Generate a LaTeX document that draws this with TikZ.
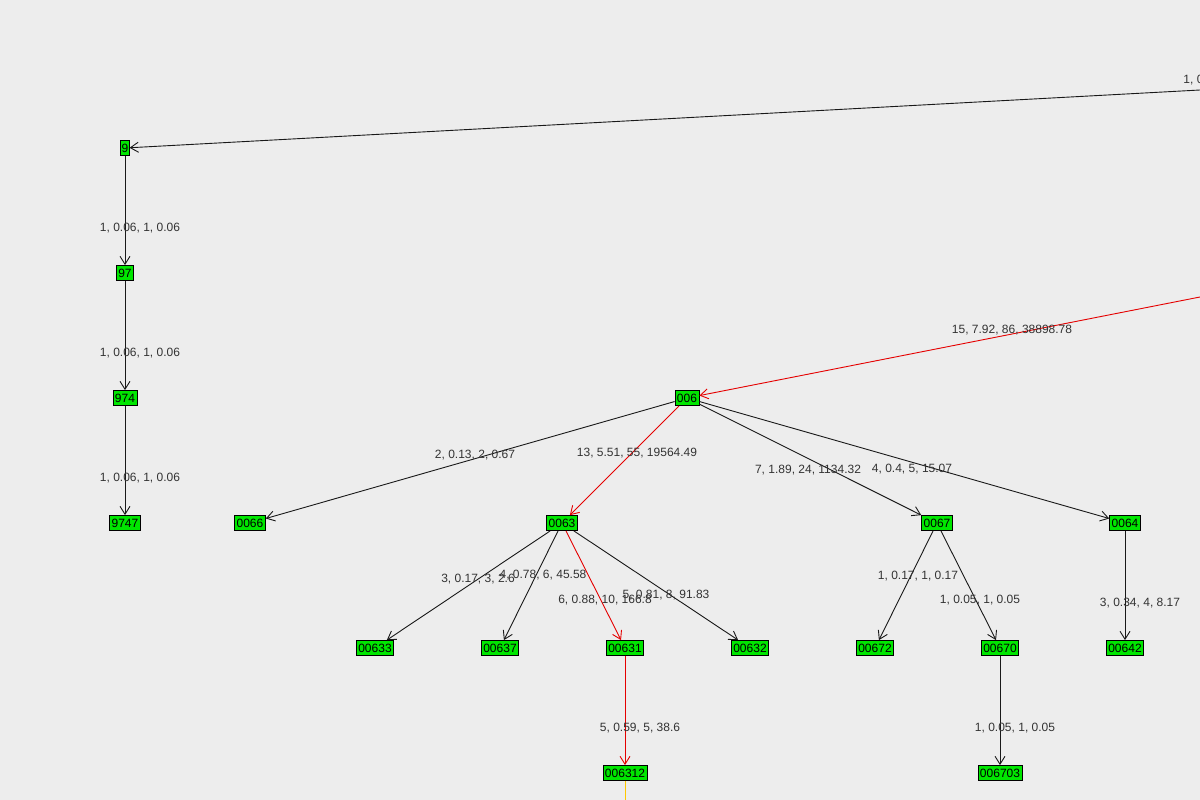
\documentclass[tikz,border=0pt]{standalone}
\usepackage{fontspec}
\setmainfont{Liberation Sans}
\usetikzlibrary{arrows.meta}
\begin{document}
\begin{tikzpicture}[x=1pt,y=-1pt,line width=0.9pt,
  nd/.style={draw=black,line width=0.8pt,fill={rgb,255:red,0;green,230;blue,0},inner xsep=2pt,inner ysep=1pt,minimum height=15pt,font=\fontsize{12}{13}\selectfont,text=black},
  ed/.style={draw=black!90,-{Straight Barb[length=8pt,width=10pt]}},
  red/.style={draw=red!90!black,-{Straight Barb[length=8pt,width=10pt]}},
  lb/.style={font=\fontsize{12}{13}\selectfont,text=black!80}]
\fill[black!7] (0,0) rectangle (1200,800);
\useasboundingbox (0,0) rectangle (1200,800);
\clip (0,0) rectangle (1200,800);
\coordinate (tr) at (1200,90);
\coordinate (rr) at (1200,297);
\coordinate (bot) at (625,800);
\node[nd,inner xsep=0.8pt] (n9) at (125,148) {9};
\node[nd] (n97) at (125,273) {97};
\node[nd] (n974) at (125,398) {974};
\node[nd] (n9747) at (125,523) {9747};
\node[nd] (n006) at (687,398) {006};
\node[nd] (n0066) at (250,523) {0066};
\node[nd] (n0063) at (562,523) {0063};
\node[nd] (n0067) at (937,523) {0067};
\node[nd] (n0064) at (1125,523) {0064};
\node[nd] (n00633) at (375,648) {00633};
\node[nd] (n00637) at (500,648) {00637};
\node[nd] (n00631) at (625,648) {00631};
\node[nd] (n00632) at (750,648) {00632};
\node[nd] (n00672) at (875,648) {00672};
\node[nd] (n00670) at (1000,648) {00670};
\node[nd] (n00642) at (1125,648) {00642};
\node[nd] (n006312) at (625,773) {006312};
\node[nd] (n006703) at (1000,773) {006703};
\draw[ed] (tr) -- (n9);
\draw[ed] (n9) -- (n97);
\draw[ed] (n97) -- (n974);
\draw[ed] (n974) -- (n9747);
\draw[red] (rr) -- (n006);
\draw[ed] (n006) -- (n0066);
\draw[red] (n006) -- (n0063);
\draw[ed] (n006) -- (n0067);
\draw[ed] (n006) -- (n0064);
\draw[ed] (n0063) -- (n00633);
\draw[ed] (n0063) -- (n00637);
\draw[red] (n0063) -- (n00631);
\draw[ed] (n0063) -- (n00632);
\draw[ed] (n0067) -- (n00672);
\draw[ed] (n0067) -- (n00670);
\draw[ed] (n0064) -- (n00642);
\draw[red] (n00631) -- (n006312);
\draw[ed] (n00670) -- (n006703);
\draw[draw={rgb,255:red,255;green,200;blue,0}] (n006312) -- (bot);
\node[lb,anchor=west,inner sep=0pt] (l0) at (1183,80) {1, 0.06, 1, 0.06};
\node[lb] (l1) at (1012,330) {15, 7.92, 86, 38898.78};
\node[lb] (l2) at (140,228) {1, 0.06, 1, 0.06};
\node[lb] (l3) at (140,353) {1, 0.06, 1, 0.06};
\node[lb] (l4) at (140,478) {1, 0.06, 1, 0.06};
\node[lb] (l5) at (475,455) {2, 0.13, 2, 0.67};
\node[lb] (l6) at (637,453) {13, 5.51, 55, 19564.49};
\node[lb] (l7) at (808,470) {7, 1.89, 24, 1134.32};
\node[lb] (l8) at (912,469) {4, 0.4, 5, 15.07};
\node[lb] (l9) at (478,579) {3, 0.17, 3, 2.6};
\node[lb] (l10) at (543,575) {4, 0.78, 6, 45.58};
\node[lb] (l11) at (605,600) {6, 0.88, 10, 166.8};
\node[lb] (l12) at (666,595) {5, 0.81, 8, 91.83};
\node[lb] (l13) at (918,576) {1, 0.17, 1, 0.17};
\node[lb] (l14) at (980,600) {1, 0.05, 1, 0.05};
\node[lb] (l15) at (1140,603) {3, 0.34, 4, 8.17};
\node[lb] (l16) at (640,728) {5, 0.59, 5, 38.6};
\node[lb] (l17) at (1015,728) {1, 0.05, 1, 0.05};
\end{tikzpicture}
\end{document}
